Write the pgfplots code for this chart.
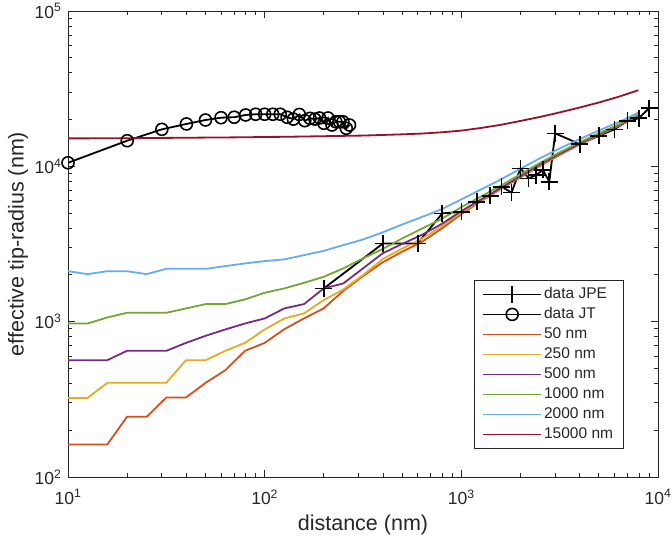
\documentclass[border=0pt]{standalone}
\usepackage{pgfplots}
\pgfplotsset{compat=1.18}
\usepackage{fontspec}
\setmainfont{Liberation Sans}
\definecolor{axgray}{rgb}{0.15,0.15,0.15}
\definecolor{cA}{rgb}{0.820,0.320,0.110}
\definecolor{cB}{rgb}{0.900,0.670,0.140}
\definecolor{cC}{rgb}{0.460,0.170,0.520}
\definecolor{cD}{rgb}{0.450,0.660,0.190}
\definecolor{cE}{rgb}{0.400,0.680,0.920}
\definecolor{cF}{rgb}{0.580,0.070,0.170}
\begin{document}
\begin{tikzpicture}
\useasboundingbox (0,0) rectangle (672pt,540pt);
\begin{axis}[
  at={(68pt,63pt)}, anchor=south west,
  scale only axis, width=590pt, height=466pt,
  xmode=log, ymode=log,
  xmin=10, xmax=10000, ymin=100, ymax=100000,
  axis line style={draw=axgray, line width=0.8pt},
  every tick/.style={draw=axgray, line width=0.8pt},
  major tick length=7pt, minor tick length=4pt,
  tick align=inside,
  xticklabel={10\textsuperscript{\pgfmathparse{int(round(\tick/ln(10)))}\pgfmathresult}},
  yticklabel={10\textsuperscript{\pgfmathparse{int(round(\tick/ln(10)))}\pgfmathresult}},
  ticklabel style={font=\fontsize{17.5}{20}\selectfont, text=axgray},
  xticklabel style={yshift=-9pt},
  yticklabel style={xshift=-3pt},
  xlabel={distance (nm)}, ylabel={effective tip-radius (nm)},
  xlabel style={at={(axis description cs:0.5,0)}, anchor=center, yshift=-48pt, font=\fontsize{21.5}{25}\selectfont, text=axgray},
  ylabel style={at={(axis description cs:-0.0847,0.5)}, anchor=center, font=\fontsize{21.5}{25}\selectfont, text=axgray},
  legend style={at={(0.688,0.4227)}, anchor=north west, draw=axgray, line width=0.8pt, fill=white,
    font=\fontsize{15.5}{18}\selectfont, text=axgray, inner xsep=8pt, inner ysep=4pt,
    nodes={inner xsep=2pt, inner ysep=1.5pt, text height=13pt, text depth=4pt}},
  legend cell align=left,
  legend image code/.code={\draw[mark repeat=2,mark phase=2,#1] plot coordinates {(0pt,0pt) (29pt,0pt) (58pt,0pt)};},
]
\addplot[black, line width=1.8pt, mark=+, mark size=8.5pt, mark options={line width=1.6pt}] coordinates {
(200,1637) (400,3190) (600,3190) (800,4980) (1000,5090) (1200,5910) (1400,6450) (1600,7390) (1800,6780) (2000,9710) (2200,8370) (2400,8790) (2600,9470) (2800,7960) (3000,16300) (4000,13900) (5000,15700) (6000,17300) (7000,19600) (8000,20400) (9000,23650)
};
\addlegendentry{data JPE}
\addplot[black, line width=1.8pt, mark=o, mark size=6pt, mark options={line width=1.6pt}] coordinates {
(10,10540) (20,14620) (30,17300) (40,18740) (50,19870) (60,20560) (70,20700) (80,21410) (90,21640) (100,21640) (110,21640) (120,21640) (130,20700) (140,20130) (150,21570) (160,19670) (170,20370) (180,20130) (190,20470) (200,18930) (210,20470) (220,18450) (230,19360) (240,19360) (250,19360) (260,17570) (270,18450)
};
\addlegendentry{data JT}
\addplot[cA, line width=1.8pt] coordinates {
(10,162) (12.589,162) (15.849,162) (19.953,244) (25.119,244) (31.623,325) (39.811,325) (50.119,404) (63.096,487) (79.433,649) (100,730) (125.89,895) (158.49,1049) (199.53,1217) (251.19,1579) (316.23,1963) (398.11,2410) (501.19,2825) (630.96,3266) (794.33,3972) (1000,4920) (1258.9,5970) (1584.9,7129) (1995.3,8492) (2511.9,10046) (3162.3,11830) (3981.1,13772) (5011.9,15885) (6309.6,18197) (7943.3,21135)
};
\addlegendentry{50 nm}
\addplot[cB, line width=1.8pt] coordinates {
(10,323) (12.589,323) (15.849,404) (19.953,404) (25.119,404) (31.623,404) (39.811,565) (50.119,565) (63.096,649) (79.433,730) (100,891) (125.89,1049) (158.49,1130) (199.53,1377) (251.19,1611) (316.23,1995) (398.11,2529) (501.19,2958) (630.96,3420) (794.33,4111) (1000,5035) (1258.9,6039) (1584.9,7194) (1995.3,8590) (2511.9,10162) (3162.3,11940) (3981.1,13836) (5011.9,15996) (6309.6,18323) (7943.3,21232)
};
\addlegendentry{250 nm}
\addplot[cC, line width=1.8pt] coordinates {
(10,565) (12.589,565) (15.849,565) (19.953,649) (25.119,649) (31.623,649) (39.811,730) (50.119,811) (63.096,891) (79.433,973) (100,1049) (125.89,1217) (158.49,1297) (199.53,1636) (251.19,1763) (316.23,2203) (398.11,2754) (501.19,3170) (630.96,3622) (794.33,4256) (1000,5152) (1258.9,6109) (1584.9,7244) (1995.3,8630) (2511.9,10280) (3162.3,12023) (3981.1,13932) (5011.9,16069) (6309.6,18408) (7943.3,21281)
};
\addlegendentry{500 nm}
\addplot[cD, line width=1.8pt] coordinates {
(10,973) (12.589,973) (15.849,1064) (19.953,1140) (25.119,1140) (31.623,1140) (39.811,1217) (50.119,1297) (63.096,1297) (79.433,1391) (100,1534) (125.89,1637) (158.49,1778) (199.53,1944) (251.19,2203) (316.23,2553) (398.11,2938) (501.19,3436) (630.96,3972) (794.33,4592) (1000,5458) (1258.9,6397) (1584.9,7499) (1995.3,8892) (2511.9,10520) (3162.3,12303) (3981.1,14256) (5011.9,16331) (6309.6,18621) (7943.3,21528)
};
\addlegendentry{1000 nm}
\addplot[cE, line width=1.8pt] coordinates {
(10,2113) (12.589,2023) (15.849,2113) (19.953,2113) (25.119,2023) (31.623,2188) (39.811,2188) (50.119,2188) (63.096,2278) (79.433,2371) (100,2454) (125.89,2518) (158.49,2681) (199.53,2856) (251.19,3110) (316.23,3380) (398.11,3758) (501.19,4227) (630.96,4721) (794.33,5297) (1000,6124) (1258.9,7096) (1584.9,8222) (1995.3,9638) (2511.9,11272) (3162.3,13032) (3981.1,14928) (5011.9,17022) (6309.6,19275) (7943.3,22131)
};
\addlegendentry{2000 nm}
\addplot[cF, line width=1.8pt] coordinates {
(10,15136) (12.589,15136) (15.849,15171) (19.953,15171) (25.119,15205) (31.623,15241) (39.811,15276) (50.119,15311) (63.096,15346) (79.433,15382) (100,15453) (125.89,15488) (158.49,15560) (199.53,15631) (251.19,15704) (316.23,15776) (398.11,15922) (501.19,16069) (630.96,16255) (794.33,16558) (1000,16982) (1258.9,17660) (1584.9,18493) (1995.3,19588) (2511.9,20797) (3162.3,22233) (3981.1,23878) (5011.9,25763) (6309.6,28054) (7943.3,30903)
};
\addlegendentry{15000 nm}
\end{axis}
\end{tikzpicture}
\end{document}
